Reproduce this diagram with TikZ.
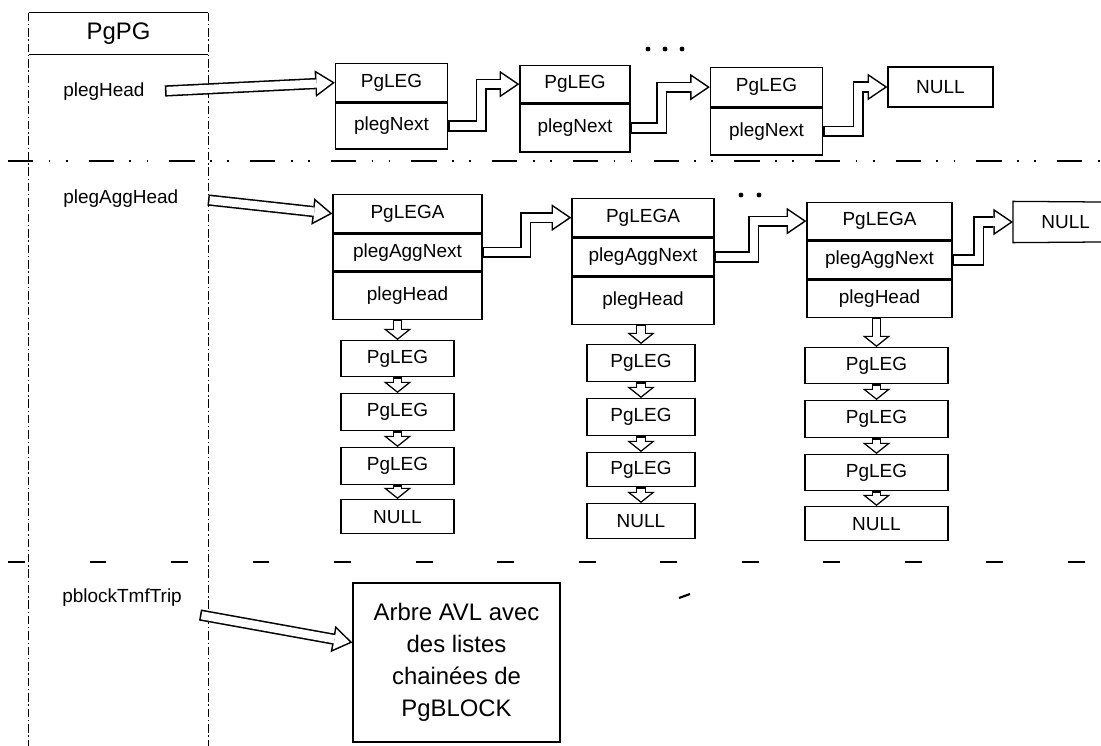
\documentclass[tikz,border=0pt]{standalone}
\usepackage{fontspec}
\setmainfont{Liberation Sans}
\usetikzlibrary{arrows.meta,positioning}

\begin{document}
\begin{tikzpicture}[
    cell/.style={rectangle, draw, line width=0.9pt, minimum width=2.8cm,
                 inner sep=0pt, align=center, font=\fontsize{13.5}{16}\selectfont},
    colbox/.style={cell, anchor=north, minimum height=0.925cm},
    lbl/.style={anchor=west, inner sep=0pt, font=\fontsize{13.5}{16}\selectfont},
    hol/.style={line width=8pt, -{Triangle[length=14pt,width=19pt,line width=0pt]},
                postaction={draw=white, line width=5.8pt, shorten <=1.1pt, shorten >=1.96pt,
                            -{Triangle[length=10.94pt,width=14.85pt,line width=0pt]}}},
    holdown/.style={line width=7pt, -{Triangle[length=8pt,width=20pt,line width=0pt]},
                postaction={draw=white, line width=5pt, shorten <=1pt, shorten >=1.28pt,
                            -{Triangle[length=5.72pt,width=14.3pt,line width=0pt]}}},
    colline/.style={line width=0.6pt, dash pattern=on 6pt off 2pt on 1pt off 2pt}
  ]
    \useasboundingbox (0,0) rectangle (27.525,-18.65);

    % PgPG record: header and its two side lines
    \node[minimum width=4.475cm, minimum height=1.025cm, inner sep=0pt,
          font=\fontsize{17}{20}\selectfont] (pgpg) at (2.9625,-0.8375) {PgPG};
    \draw[line width=0.8pt] (pgpg.north west) -- (pgpg.north east);
    \draw[line width=0.9pt] (pgpg.south west) -- (pgpg.south east);
    \draw[colline] (pgpg.north west) -- ++(0,-18.325);
    \draw[colline] (pgpg.north east) -- ++(0,-18.325);

    % separators between the three fields
    \draw[line width=0.9pt, dash pattern=on 18pt off 11pt on 1.2pt off 11pt on 1.2pt off 15pt]
      (0.2,-4.025) -- (27.525,-4.025);
    \draw[line width=0.8pt, dash pattern=on 12pt off 46pt] (0.2,-14.05) -- (27.525,-14.05);

    % field names
    \node[lbl] (phead) at (1.575,-2.3)   {plegHead};
    \node[lbl] (paggh) at (1.575,-4.975) {plegAggHead};
    \node[lbl] (ptrip) at (1.55,-14.95)  {pblockTmfTrip};

    % Row 1: list of PgLEG
    \node[cell, anchor=north, minimum height=0.95cm] (leg1) at (9.7875,-1.575) {PgLEG};
    \node[cell, below=0pt of leg1, minimum height=1.15cm] (leg1n) {plegNext};
    \node[cell, anchor=north, minimum width=2.75cm, minimum height=0.925cm] (leg2) at (14.375,-1.625) {PgLEG};
    \node[cell, below=0pt of leg2, minimum width=2.75cm, minimum height=1.2cm] (leg2n) {plegNext};
    \node[cell, anchor=north, minimum height=0.975cm] (leg3) at (19.1625,-1.675) {PgLEG};
    \node[cell, below=0pt of leg3, minimum height=1.175cm] (leg3n) {plegNext};
    \node[cell, minimum width=2.625cm, minimum height=1.0cm] (null1) at (23.5125,-2.175) {NULL};

    \fill (16.2,-1.225) circle (0.06);
    \fill (16.625,-1.225) circle (0.06);
    \fill (17.05,-1.225) circle (0.06);

    \coordinate (pheadT) at (4.125,-2.275);
    \draw[hol] (pheadT) -- (leg1.west);
    \draw[hol] (leg1n.east) -- ++(0.825,0) |- (leg2.west);
    \draw[hol] (leg2n.east) -- ++(0.775,0) |- (leg3.west);
    \draw[hol] (leg3n.east) -- ++(0.875,0) |- (null1.west);

    % Row 2: list of PgLEGA
    \node[cell, anchor=north, minimum width=3.725cm, minimum height=0.95cm] (lga1) at (10.1875,-4.85) {PgLEGA};
    \node[cell, below=0pt of lga1, minimum width=3.725cm, minimum height=0.925cm] (lga1n) {plegAggNext};
    \node[cell, below=0pt of lga1n, minimum width=3.725cm, minimum height=1.175cm] (lga1h) {plegHead};
    \node[cell, anchor=north, minimum width=3.55cm, minimum height=0.95cm] (lga2) at (16.075,-4.95) {PgLEGA};
    \node[cell, below=0pt of lga2, minimum width=3.55cm, minimum height=0.95cm] (lga2n) {plegAggNext};
    \node[cell, below=0pt of lga2n, minimum width=3.55cm, minimum height=1.175cm] (lga2h) {plegHead};
    \node[cell, anchor=north, minimum width=3.625cm, minimum height=0.925cm] (lga3) at (21.9875,-5.05) {PgLEGA};
    \node[cell, below=0pt of lga3, minimum width=3.625cm, minimum height=0.95cm] (lga3n) {plegAggNext};
    \node[cell, below=0pt of lga3n, minimum width=3.625cm, minimum height=0.925cm] (lga3h) {plegHead};
    \node[cell, draw=none, anchor=west, minimum width=2.6cm, minimum height=1.0cm] (null2) at (25.325,-5.55) {NULL};
    \draw[line width=0.9pt] (27.525,-5.05) -- (null2.north west) -- (null2.south west) -- (27.525,-6.05);

    \fill (18.525,-4.875) circle (0.06);
    \fill (18.975,-4.875) circle (0.06);

    \coordinate (pagghT) at (5.2,-5.0);
    \draw[hol] (pagghT) -- (lga1.west);
    \draw[hol] (lga1n.east) -- ++(1.075,0) |- (lga2.west);
    \draw[hol] (lga2n.east) -- ++(0.975,0) |- (lga3.west);
    \draw[hol] (lga3n.east) -- ++(0.65,0) |- (null2.west);

    % Column 1 under the first PgLEGA
    \node[colbox, minimum width=2.825cm, minimum height=0.9cm] (c1a) at (9.9375,-8.5) {PgLEG};
    \node[colbox, minimum width=2.825cm] (c1b) at (9.9375,-9.825) {PgLEG};
    \node[colbox, minimum width=2.825cm] (c1c) at (9.9375,-11.175) {PgLEG};
    \node[colbox, minimum width=2.825cm, minimum height=0.85cm] (c1d) at (9.9375,-12.475) {NULL};
    \draw[holdown] (c1a.north |- lga1h.south) -- (c1a.north);
    \draw[holdown] (c1a.south) -- (c1b.north);
    \draw[holdown] (c1b.south) -- (c1c.north);
    \draw[holdown] (c1c.south) -- (c1d.north);

    % Column 2
    \node[colbox, minimum width=2.7cm] (c2a) at (16.025,-8.6) {PgLEG};
    \node[colbox, minimum width=2.7cm] (c2b) at (16.025,-9.95) {PgLEG};
    \node[colbox, minimum width=2.7cm, minimum height=0.85cm] (c2c) at (16.025,-11.3) {PgLEG};
    \node[colbox, minimum width=2.7cm, minimum height=0.875cm] (c2d) at (16.025,-12.575) {NULL};
    \draw[holdown] (c2a.north |- lga2h.south) -- (c2a.north);
    \draw[holdown] (c2a.south) -- (c2b.north);
    \draw[holdown] (c2b.south) -- (c2c.north);
    \draw[holdown] (c2c.south) -- (c2d.north);

    % Column 3
    \node[colbox, minimum width=3.575cm, minimum height=0.9cm] (c3a) at (21.9125,-8.675) {PgLEG};
    \node[colbox, minimum width=3.575cm] (c3b) at (21.9125,-10.0) {PgLEG};
    \node[colbox, minimum width=3.575cm, minimum height=0.9cm] (c3c) at (21.9125,-11.35) {PgLEG};
    \node[colbox, minimum width=3.575cm, minimum height=0.85cm] (c3d) at (21.9125,-12.65) {NULL};
    \draw[holdown] (c3a.north |- lga3h.south) -- (c3a.north);
    \draw[holdown] (c3a.south) -- (c3b.north);
    \draw[holdown] (c3b.south) -- (c3c.north);
    \draw[holdown] (c3c.south) -- (c3d.north);

    % Row 3: AVL tree of PgBLOCK
    \node[cell, minimum width=5.175cm, minimum height=3.975cm,
          font=\fontsize{17}{22.8}\selectfont] (avl) at (11.4125,-16.5625)
      {Arbre AVL avec\\des listes\\chainées de\\PgBLOCK};
    \coordinate (ptripT) at (5.0,-15.375);
    \draw[hol] (ptripT) -- ([yshift=0.5cm]avl.west);

    \draw[line width=1.5pt] (16.975,-14.95) -- (17.25,-14.85);
  \end{tikzpicture}
\end{document}
